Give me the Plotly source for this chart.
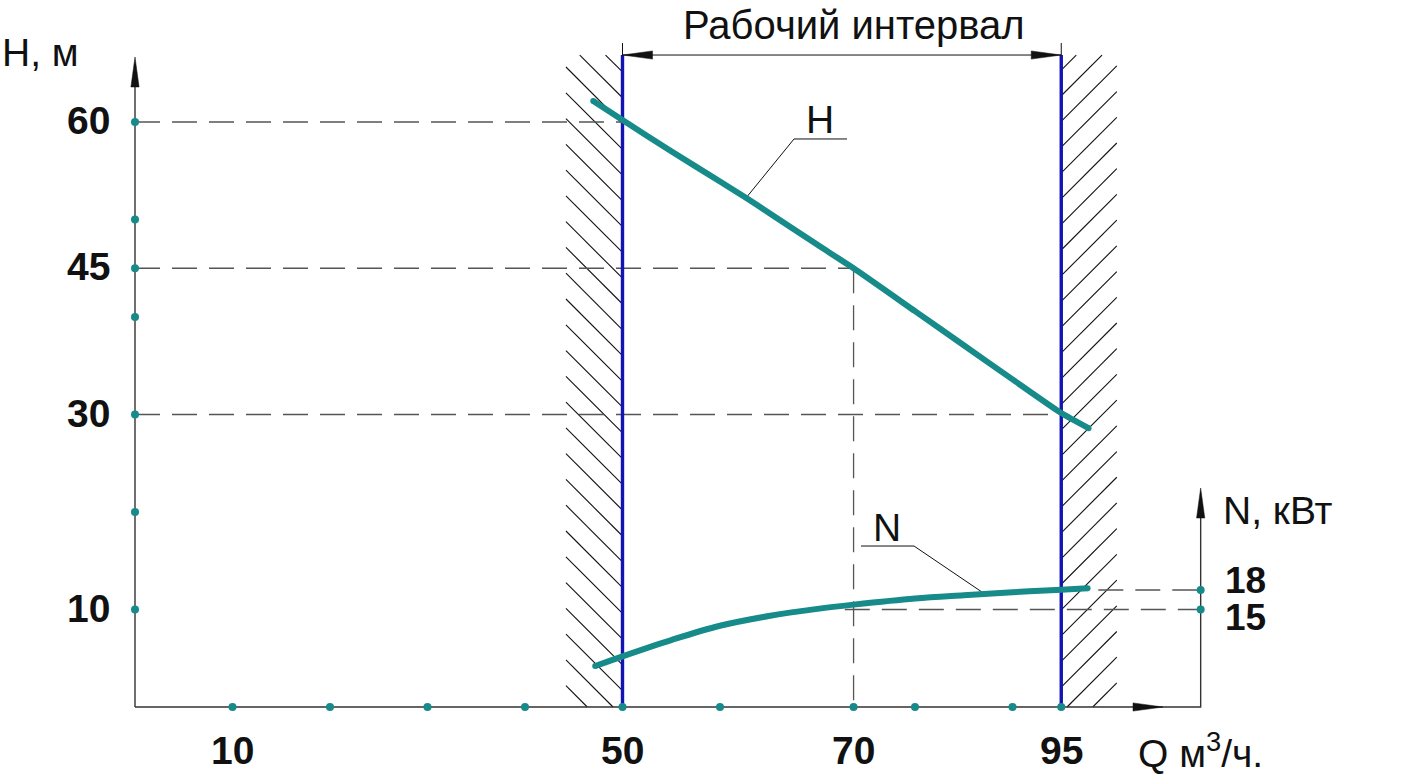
import plotly.graph_objects as go

# ---------------- data ----------------
# Head curve H(Q), m
q_h = [47.0, 50.0, 55.0, 60.0, 62.7, 65.0, 70.0, 73.7, 80.0, 85.0, 90.0, 95.0, 97.8]
h_vals = [62.15, 60.2, 57.0, 53.9, 52.2, 50.7, 47.4, 45.0, 40.6, 37.1, 33.6, 30.15, 28.6]

# Power curve N(Q), kW
q_n = [47.2, 50.0, 55.0, 60.0, 65.0, 70.0, 73.7, 80.0, 85.0, 90.0, 95.0, 97.7]
n_vals = [6.3, 7.8, 10.3, 12.5, 14.0, 15.1, 15.75, 16.7, 17.2, 17.65, 18.05, 18.25]

# axis tick dots and labels
q_dots = [10, 20, 30, 40, 50, 60, 73.7, 80, 90, 95]
h_dots = [10, 20, 30, 40, 45, 50, 60]
n_dots = [15, 18]
q_label_pos = [10, 50, 73.7, 95]
q_label_txt = ["10", "50", "70", "95"]
h_label_pos = [60, 45, 30, 10]
n_label_pos = [18, 15]

# working interval
q_work = [50, 95]

# ---------------- styling ----------------
TEAL = "#178a8a"
BLUE = "#1414b4"
DASH_C = "#555555"
AX_C = "#333333"
FONT = "Liberation Sans, Arial, sans-serif"

# axis frames (data units; both x and H axes share the same px/unit)
X0, X1 = -13.846, 130.359
Y0, Y1 = -7.385, 72.513
N0, N1 = -11.077, 108.769
Q_RIGHT = 109.3      # position of N axis
Y_TOP = 66.87        # top of working-interval frame
H_TIP = 66.67
N_TIP = 22.46
Q_TIP = 105.44

fig = go.Figure()


def add_line(xs, ys, color, width, dash=None, yaxis="y"):
    fig.add_trace(go.Scatter(x=xs, y=ys, mode="lines", yaxis=yaxis,
                             line=dict(color=color, width=width, dash=dash),
                             hoverinfo="skip"))


# ---------- hatching ----------
def hatch(x0, x1, y0, y1, ref_x, base, step, direction):
    xs, ys = [], []
    k = -5
    while True:
        yk = base - step * k
        if yk < y0 - (x1 - x0) - step:
            break
        k += 1
        if direction == "back":      # "\" : y = yk + (ref_x - x)
            c = yk + ref_x
            a, b = max(x0, c - y1), min(x1, c - y0)
            if a < b:
                xs += [a, b, None]
                ys += [c - a, c - b, None]
        else:                        # "/" : y = yk + (x - ref_x)
            d = yk - ref_x
            a, b = max(x0, y0 - d), min(x1, y1 - d)
            if a < b:
                xs += [a, b, None]
                ys += [a + d, b + d, None]
    add_line(xs, ys, "#111111", 1.1)


hatch(44.2, q_work[0], 0, Y_TOP, q_work[0], 65.13, 2.644, "back")
hatch(q_work[1], 100.7, 0, Y_TOP, q_work[1], 65.33, 2.637, "fwd")

# ---------- dashed guide lines ----------
DASH = "25px,12px"
add_line([0, q_work[0]], [60, 60], DASH_C, 1.3, DASH)
add_line([0, 73.7], [45, 45], DASH_C, 1.3, DASH)
add_line([73.7, 73.7], [45, 0], DASH_C, 1.3, DASH)
add_line([0, q_work[1]], [30, 30], DASH_C, 1.3, DASH)
add_line([98.8, Q_RIGHT], [18, 18], DASH_C, 1.3, DASH, yaxis="y2")
add_line([72.8, Q_RIGHT], [15, 15], DASH_C, 1.3, DASH, yaxis="y2")

# ---------- axes ----------
add_line([0, 0], [0, H_TIP - 1], AX_C, 1.4)
add_line([0, Q_RIGHT, Q_RIGHT], [0, 0, N_TIP - 1], AX_C, 1.4)

# extension lines and dimension line
add_line([q_work[0], q_work[0]], [Y_TOP, 68.1], "#111111", 1.0)
add_line([q_work[1], q_work[1]], [Y_TOP, 68.1], "#111111", 1.0)
add_line([q_work[0], q_work[1]], [Y_TOP, Y_TOP], "#111111", 1.0)

# ---------- working interval borders ----------
add_line([q_work[0], q_work[0]], [0, Y_TOP], BLUE, 3.4)
add_line([q_work[1], q_work[1]], [0, Y_TOP], BLUE, 3.4)

# ---------- leader lines ----------
add_line([73.03, 67.59, 62.67], [58.26, 58.26, 52.21], "#111111", 1.0)
add_line([74.46, 79.9, 86.87], [16.51, 16.51, 11.79], "#111111", 1.0)

# ---------- curves ----------
fig.add_trace(go.Scatter(x=q_h, y=h_vals, mode="lines",
                         line=dict(color=TEAL, width=6, shape="spline", smoothing=0.6),
                         hoverinfo="skip"))
fig.add_trace(go.Scatter(x=q_n, y=n_vals, mode="lines", yaxis="y2",
                         line=dict(color=TEAL, width=6, shape="spline", smoothing=1.0),
                         hoverinfo="skip"))
# rounded curve ends
fig.add_trace(go.Scatter(x=[q_h[0], q_h[-1]], y=[h_vals[0], h_vals[-1]], mode="markers",
                         marker=dict(color=TEAL, size=6), hoverinfo="skip"))
fig.add_trace(go.Scatter(x=[q_n[0], q_n[-1]], y=[n_vals[0], n_vals[-1]], mode="markers",
                         yaxis="y2", marker=dict(color=TEAL, size=6), hoverinfo="skip"))

# ---------- tick dots ----------
fig.add_trace(go.Scatter(x=q_dots, y=[0] * len(q_dots), mode="markers",
                         marker=dict(color=TEAL, size=8), hoverinfo="skip"))
fig.add_trace(go.Scatter(x=[0] * len(h_dots), y=h_dots, mode="markers",
                         marker=dict(color=TEAL, size=8), hoverinfo="skip"))
fig.add_trace(go.Scatter(x=[Q_RIGHT] * len(n_dots), y=n_dots, mode="markers", yaxis="y2",
                         marker=dict(color=TEAL, size=8), hoverinfo="skip"))


# ---------- arrowheads ----------
def arrow(tx, ty, dx, dy, length=3.08, half=0.42):
    bx, by = tx - dx * length, ty - dy * length
    px, py = -dy * half, dx * half
    path = f"M {tx},{ty} L {bx + px},{by + py} L {bx - px},{by - py} Z"
    fig.add_shape(type="path", path=path, xref="x", yref="y",
                  fillcolor="#111111", line=dict(color="#111111", width=0.5))


arrow(0, H_TIP, 0, 1)
arrow(Q_RIGHT, N_TIP, 0, 1)
arrow(Q_TIP, 0, 1, 0)
arrow(q_work[0], Y_TOP, -1, 0)
arrow(q_work[1], Y_TOP, 1, 0)

# ---------- text ----------
REG = dict(family=FONT, size=39, color="#111111")
BOLD = dict(family=FONT, size=39, color="#111111", weight="bold")
BOLD_S = dict(family=FONT, size=37, color="#111111", weight="bold")
ann = []


def text(x, y, t, font, xa="center", ya="middle", yref="y", **kw):
    ann.append(dict(x=x, y=y, text=t, xref="x", yref=yref, showarrow=False,
                    xanchor=xa, yanchor=ya, font=font, **kw))


text(73.7, 70.0, "Рабочий интервал", dict(REG, size=40))
text(-13.8, 67.1, "H, м", REG, xa="left")
for v in h_label_pos:
    text(-2.4, v + 0.15, str(v), BOLD, xa="right")
for p, t in zip(q_label_pos, q_label_txt):
    text(p, -4.45, t, BOLD)
text(102.7, -4.5, "Q м<sup>3</sup>/ч.", REG, xa="left")
text(111.4, 20.2, "N, кВт", REG, xa="left")
text(111.6, 18.0 + 1.6, "18", BOLD_S, xa="left", yref="y2", height=34, valign="middle")
text(111.6, 15.0 - 1.2, "15", BOLD_S, xa="left", yref="y2", height=34, valign="middle")
text(70.26, 60.3, "H", REG)
text(77.13, 18.46, "N", REG)

fig.update_layout(
    width=1406, height=779, autosize=False,
    margin=dict(l=0, r=0, t=0, b=0, pad=0),
    paper_bgcolor="white", plot_bgcolor="white",
    showlegend=False,
    xaxis=dict(range=[X0, X1], visible=False, fixedrange=True),
    yaxis=dict(range=[Y0, Y1], visible=False, fixedrange=True),
    yaxis2=dict(range=[N0, N1], visible=False, overlaying="y", fixedrange=True),
    annotations=ann,
)

fig.write_html("out.html", config={"displayModeBar": False})
